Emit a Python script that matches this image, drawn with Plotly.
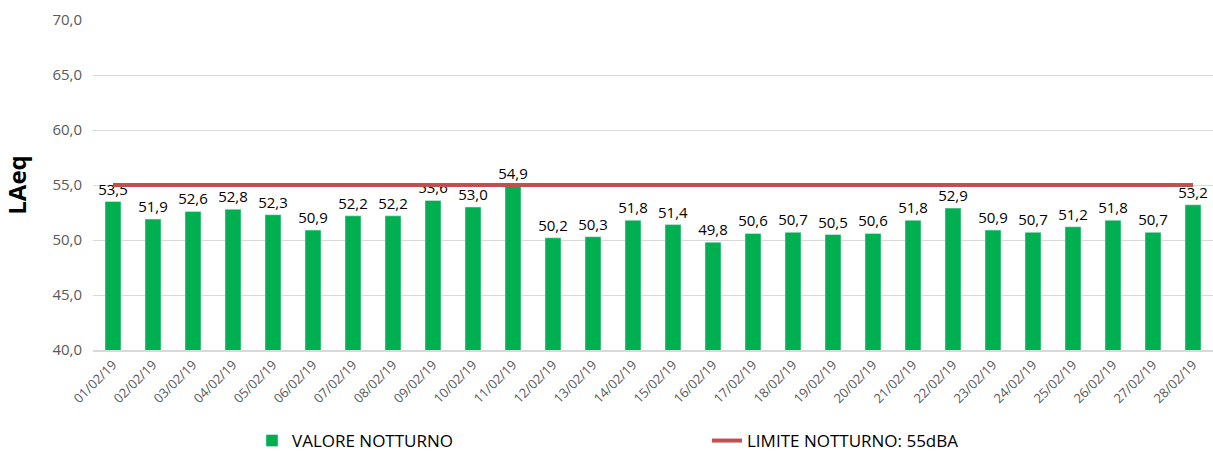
import plotly.graph_objects as go

dates = [f"{d:02d}/02/19" for d in range(1, 29)]
valori = [53.5, 51.9, 52.6, 52.8, 52.3, 50.9, 52.2, 52.2, 53.6, 53.0, 54.9, 50.2, 50.3, 51.8,
          51.4, 49.8, 50.6, 50.7, 50.5, 50.6, 51.8, 52.9, 50.9, 50.7, 51.2, 51.8, 50.7, 53.2]
limite = [55.0] * len(dates)

fig = go.Figure()
fig.add_trace(go.Bar(
    x=dates, y=valori, name="VALORE NOTTURNO",
    marker=dict(color="#00B050"),
    texttemplate="%{y:.1f}", textposition="outside", textangle=0,
    constraintext="none",
    textfont=dict(size=15, color="#000000"),
    cliponaxis=False,
))
fig.add_trace(go.Scatter(
    x=dates, y=limite, name="LIMITE NOTTURNO: 55dBA", mode="lines",
    line=dict(color="#C0504D", width=4),
))

fig.update_layout(
    width=1213, height=459,
    margin=dict(l=93, r=0, t=20, b=109, autoexpand=False),
    plot_bgcolor="white", paper_bgcolor="white",
    separators=",.",
    font=dict(family="Open Sans", color="#595959"),
    bargap=0.6,
    showlegend=True,
    legend=dict(orientation="h", yref="container", y=12, yanchor="top",
                xref="container", x=252 / 1213, xanchor="left",
                entrywidth=410, entrywidthmode="pixels", traceorder="normal",
                font=dict(size=17, color="#000000"), bgcolor="rgba(0,0,0,0)"),
    xaxis=dict(type="category", tickangle=-45, tickfont=dict(size=13, color="#595959"),
               showgrid=False, showline=True, linecolor="#D9D9D9", linewidth=2, ticks="",
               automargin=False),
    yaxis=dict(range=[40, 70], dtick=5, tickformat=".1f", showgrid=True, gridcolor="#D9D9D9",
               gridwidth=1, zeroline=False, tickfont=dict(size=15, color="#595959"),
               ticklabelstandoff=10, automargin=False,
               title=dict(text="<b>LAeq</b>", font=dict(size=24, color="#000000"), standoff=28)),
)

fig.write_html("out.html", config={"displayModeBar": False},
               post_script="document.body.style.margin='0';document.body.style.overflow='hidden';")
